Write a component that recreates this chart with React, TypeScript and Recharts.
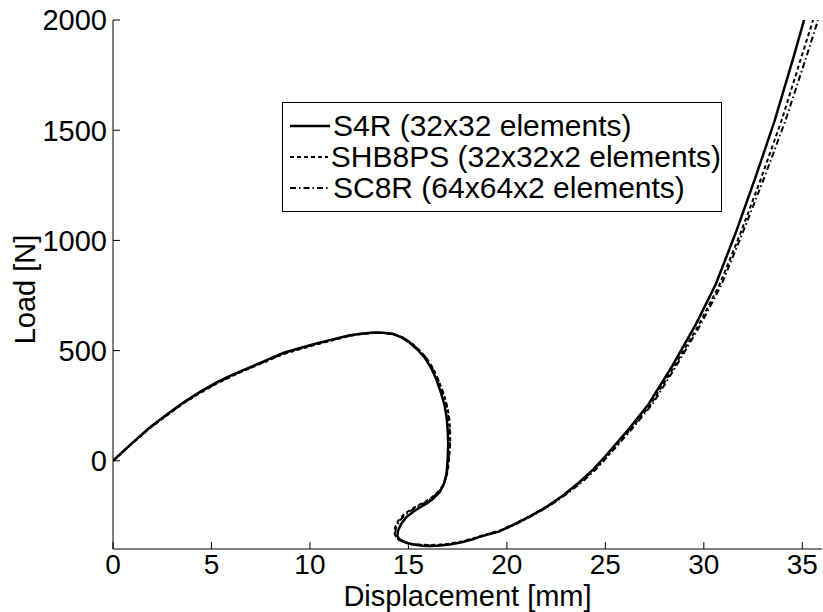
import { Legend, Line, LineChart, XAxis, YAxis } from 'recharts'

const xTicks = [0, 5, 10, 15, 20, 25, 30, 35]
const yTicks = [0, 500, 1000, 1500, 2000]

// S4R (32x32 elements) – solid
const s4rX = [0, 0.9, 1.88, 2.7, 3.57, 4.4, 5.26, 6.1, 6.95, 7.8, 8.64, 9.5, 10.33, 11.2, 12.02, 12.7, 13.2, 13.7, 14.21, 14.65, 15.06, 15.45, 15.82, 16.15, 16.41, 16.65, 16.84, 16.95, 17.0, 17.02, 17.0, 16.97, 16.92, 16.78, 16.58, 16.25, 15.91, 15.55, 15.23, 14.9, 14.64, 14.48, 14.44, 14.5, 14.64, 14.9, 15.23, 15.74, 16.08, 16.6, 17.09, 17.7, 18.27, 18.61, 19.62, 20.3, 21.1, 22.0, 22.85, 23.68, 24.4, 25.03, 25.6, 26.2, 27.2, 28.4, 29.6, 30.6, 31.6, 32.6, 33.6, 34.6, 35.09]
const s4rY = [0, 75, 152, 208, 265, 312, 356, 392, 424, 457, 489, 512, 532, 552, 570, 578, 582, 581, 575, 560, 537, 505, 469, 422, 371, 310, 250, 190, 130, 75, 24, -25, -66, -110, -142, -172, -195, -213, -232, -255, -285, -315, -338, -352, -361, -372, -380, -385, -386, -384, -380, -370, -356, -345, -320, -292, -255, -210, -157, -97, -38, 24, 83, 145, 258, 431, 620, 800, 1030, 1280, 1545, 1845, 2000]

// SHB8PS (32x32x2 elements) – dashed
const shbX = [0, 0.9, 1.88, 2.7, 3.57, 4.4, 5.26, 6.1, 6.95, 7.8, 8.64, 9.5, 10.33, 11.2, 12.02, 12.7, 13.25, 13.75, 14.3, 14.75, 15.15, 15.55, 15.92, 16.25, 16.52, 16.78, 16.97, 17.08, 17.12, 17.12, 17.08, 17.02, 16.95, 16.8, 16.55, 16.2, 15.85, 15.45, 15.1, 14.75, 14.48, 14.32, 14.3, 14.38, 14.55, 14.85, 15.2, 15.74, 16.08, 16.6, 17.09, 17.7, 18.27, 18.7, 19.7, 20.4, 21.2, 22.1, 22.95, 23.78, 24.5, 25.13, 25.7, 26.3, 27.3, 28.5, 29.75, 30.8, 31.85, 32.9, 33.95, 35.0, 35.55]
const shbY = [0, 73, 149, 204, 260, 307, 350, 387, 420, 452, 484, 507, 528, 548, 567, 576, 580, 580, 574, 558, 535, 503, 466, 420, 368, 308, 248, 188, 128, 74, 22, -28, -66, -106, -136, -165, -186, -204, -222, -245, -272, -302, -330, -348, -360, -370, -377, -381, -382, -380, -376, -366, -352, -340, -314, -286, -249, -204, -152, -93, -35, 26, 84, 145, 256, 428, 618, 800, 1030, 1280, 1545, 1845, 2000]

// SC8R (64x64x2 elements) – dash-dot
const sc8rX = [0, 0.9, 1.88, 2.7, 3.57, 4.4, 5.26, 6.1, 6.95, 7.8, 8.64, 9.5, 10.33, 11.2, 12.02, 12.7, 13.25, 13.75, 14.28, 14.72, 15.12, 15.52, 15.9, 16.22, 16.5, 16.75, 16.94, 17.05, 17.1, 17.1, 17.06, 17.0, 16.94, 16.79, 16.56, 16.22, 15.88, 15.5, 15.15, 14.8, 14.52, 14.36, 14.33, 14.4, 14.58, 14.88, 15.22, 15.74, 16.08, 16.6, 17.09, 17.7, 18.27, 18.7, 19.72, 20.45, 21.25, 22.15, 23.0, 23.85, 24.55, 25.15, 25.75, 26.35, 27.4, 28.6, 29.85, 30.9, 31.95, 33.05, 34.15, 35.25, 35.8]
const sc8rY = [0, 74, 150, 205, 262, 309, 352, 389, 422, 454, 486, 509, 530, 550, 568, 577, 581, 581, 575, 559, 536, 504, 467, 421, 369, 309, 249, 189, 129, 74, 23, -27, -66, -107, -138, -167, -188, -206, -225, -248, -276, -306, -333, -350, -361, -371, -378, -383, -384, -382, -378, -368, -354, -342, -316, -288, -251, -205, -153, -94, -36, 24, 83, 145, 258, 431, 620, 800, 1030, 1280, 1545, 1845, 2000]

const zip = (xs: number[], ys: number[]) => xs.map((x, i) => ({ x, y: ys[i] }))

const series = [
 { name: 'S4R (32x32 elements)', data: zip(s4rX, s4rY), dash: undefined, width: 2.5 },
 { name: 'SHB8PS (32x32x2 elements)', data: zip(shbX, shbY), dash: '4 3', width: 2 },
 { name: 'SC8R (64x64x2 elements)', data: zip(sc8rX, sc8rY), dash: '6 3 1.5 3', width: 2 },
]

const FONT = '"Liberation Sans", Arial, Helvetica, sans-serif'

function LegendBox() {
 return (
 <div
 style={{
 border: '1px solid #000',
 background: '#fff',
 width: 440,
 height: 110,
 boxSizing: 'border-box',
 padding: '7px 0 0 7px',
 fontFamily: FONT,
 fontSize: 30,
 color: '#000',
 }}
 >
 {series.map((s) => (
 <div key={s.name} style={{ display: 'flex', alignItems: 'center', height: 31, whiteSpace: 'nowrap' }}>
 <svg width={40} height={10} style={{ marginRight: 3 }}>
 <line x1={0} y1={5} x2={40} y2={5} stroke="#000" strokeWidth={s.width} strokeDasharray={s.dash} />
 </svg>
 <span>{s.name}</span>
 </div>
 ))}
 </div>
 )
}

export default function App() {
 const tickStyle = { fontSize: 28, fill: '#000', fontFamily: FONT }
 return (
 <div style={{ position: 'absolute', left: 0, top: 0, background: '#fff' }}>
 <LineChart width={823} height={612} margin={{ top: 20, right: 1, bottom: 0, left: 0 }}>
 <XAxis
 xAxisId="main"
 type="number"
 dataKey="x"
 domain={[0, 36]}
 ticks={xTicks}
 allowDataOverflow
 height={63}
 tickSize={-7}
 tickMargin={12}
 tick={tickStyle}
 stroke="#000"
 interval={0}
 label={{
 content: ({ viewBox }: any) => (
 <text x={viewBox.x + viewBox.width / 2} y={viewBox.y + viewBox.height - 6} textAnchor="middle" fontSize={29} fontFamily={FONT} fill="#000">
 Displacement [mm]
 </text>
 ),
 }}
 />
 <XAxis xAxisId="top" orientation="top" type="number" domain={[0, 36]} ticks={xTicks} height={0} tickSize={-7} tickFormatter={() => ''} stroke="#000" interval={0} />
 <YAxis
 yAxisId="main"
 type="number"
 domain={[-400, 2000]}
 ticks={yTicks}
 allowDataOverflow
 width={113}
 tickSize={-7}
 tickMargin={13}
 tick={{ ...tickStyle, fontSize: 29 }}
 stroke="#000"
 interval={0}
 label={{
 content: ({ viewBox }: any) => {
 const cx = viewBox.x + 25
 const cy = viewBox.y + viewBox.height / 2 + 5
 return (
 <text x={cx} y={cy} transform={`rotate(-90, ${cx}, ${cy})`} textAnchor="middle" dominantBaseline="central" fontSize={29} fontFamily={FONT} fill="#000">
 Load [N]
 </text>
 )
 },
 }}
 />
 <YAxis yAxisId="right" orientation="right" type="number" domain={[-400, 2000]} ticks={yTicks} width={0} tickSize={-7} tickFormatter={() => ''} stroke="#000" interval={0} />
 {series.map((s) => (
 <Line
 key={s.name}
 xAxisId="main"
 yAxisId="main"
 data={s.data}
 dataKey="y"
 name={s.name}
 type="linear"
 stroke="#000"
 strokeWidth={s.width}
 strokeDasharray={s.dash}
 dot={false}
 activeDot={false}
 isAnimationActive={false}
 />
 ))}
 <Legend
 layout="vertical"
 align="center"
 verticalAlign="middle"
 wrapperStyle={{ left: 282, top: 102, width: 440 }}
 content={() => <LegendBox />}
 />
 </LineChart>
 </div>
 )
}
